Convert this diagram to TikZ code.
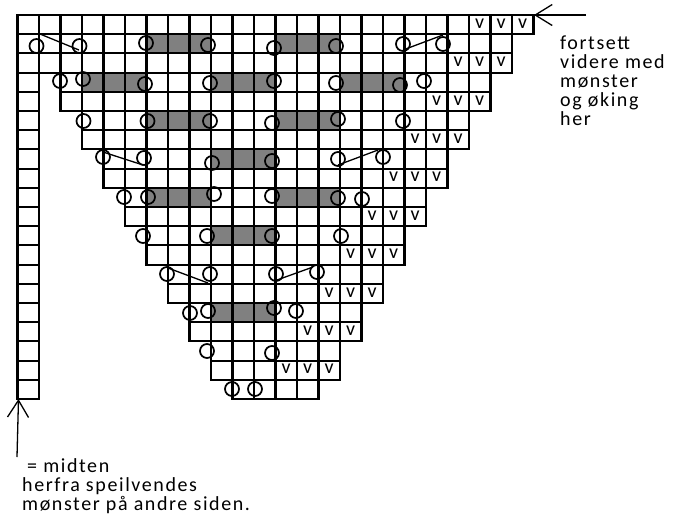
\documentclass[tikz,border=0pt]{standalone}
\usepackage{fontspec}
\usetikzlibrary{arrows.meta}
\newfontfamily\notefont[LetterSpace=8]{Carlito}
\newfontfamily\stitchfont{Carlito}
\tikzset{
	vline/.style={line width=2.8pt},
	hline/.style={line width=2pt},
	ring/.style={circle,draw,line width=1.7pt,minimum size=14pt,inner sep=0pt},
	slant/.style={line width=1.3pt},
	pointer/.style={line width=1.3pt,-{Straight Barb[length=17pt,width=21pt,line width=1.3pt]}},
	note/.style={font=\notefont\fontsize{20}{19}\selectfont,align=left,inner sep=0pt,anchor=north west},
	stitch/.style={font=\stitchfont\fontsize{20}{19}\selectfont,inner sep=0pt}
}
\begin{document}
\begin{tikzpicture}[x=1pt,y=-1pt]
	\def\fx(#1){17.5+21.5*(#1)}
	\def\fy(#1){15+19.2*(#1)}
	\useasboundingbox (0,0) rectangle (688,515);
	\foreach \r/\a/\b in {1/6/9,1/12/15,3/3/6,3/9/12,3/15/18,5/6/9,5/12/15,7/9/12,9/6/9,9/12/15,11/9/12,15/9/12}
		\fill[gray] ({\fx(\a)},{\fy(\r)}) rectangle ({\fx(\b)},{\fy(\r+1)});
	\foreach \r in {0,...,19}{
		\pgfmathtruncatemacro\lft{int((\r+1)/2)}
		\pgfmathtruncatemacro\rgt{24-\lft}
		\draw[hline] ({\fx(\lft)},{\fy(\r)})--({\fx(\rgt)},{\fy(\r)});
		\draw[hline] ({\fx(\lft)},{\fy(\r+1)})--({\fx(\rgt)},{\fy(\r+1)});
		\draw[hline] ({\fx(0)},{\fy(\r)})--({\fx(1)},{\fy(\r)});
		\draw[hline] ({\fx(0)},{\fy(\r+1)})--({\fx(1)},{\fy(\r+1)});
		\draw[vline] ({\fx(0)},{\fy(\r)-1})--({\fx(0)},{\fy(\r+1)+1});
		\draw[vline] ({\fx(1)},{\fy(\r)-1})--({\fx(1)},{\fy(\r+1)+1});
		\foreach \c in {\lft,...,\rgt}\draw[vline] ({\fx(\c)},{\fy(\r)-1})--({\fx(\c)},{\fy(\r+1)+1});
	}
	\foreach \r in {0,...,9}{
		\pgfmathtruncatemacro\first{21-\r}
		\pgfmathtruncatemacro\last{23-\r}
		\foreach \c in {\first,...,\last}\node[stitch] (v\r-\c) at ({\fx(\c+.5)},{\fy(2*\r+.5)-1}) {v};
	}
	\foreach \x/\y [count=\n] in {36.5/46,79.5/46,146/43,208/45,274/48,336/46,403/44,443/44,
		60/81,83/79,145/84,210/83,274/81,336/83,400/85,424/81,
		83.5/121,147.5/121,210/121,272/123,338/119,403/121,
		103/157,144/158,212/163,272/161,338/159,383/157,
		124/197,148/197,214/194,272/196,338/198,362/199,
		143/236,207/236,272/236,341/236,
		167/274,210/274,276/274,317/272,
		190/313,208/311,274/308,296/311,
		207/351,272/353,
		232/389,255/389}
		\node[ring] (ring\n) at (\x,\y) {};
	\foreach \xa/\ya/\xb/\yb [count=\n] in {40/34/79/50,403/50/443/35,103/152/143/165,338/165/378/150,168/268/208/283,277/280/313/267}{
		\coordinate (sa\n) at (\xa,\ya);
		\coordinate (sb\n) at (\xb,\yb);
		\draw[slant] (sa\n)--(sb\n);
	}
	\coordinate (topfrom) at (586,15);
	\coordinate (topto) at (534,15);
	\coordinate (midfrom) at (17,457);
	\coordinate (midto) at (18.5,399);
	\draw[pointer] (topfrom)--(topto);
	\draw[pointer] (midfrom)--(midto);
	\node[note] (moretext) at (560,36) {fortsett\\videre med\\mønster\\og øking\\her};
	\node[note] (midtext) at (22,458) {\hspace{5pt}= midten\\herfra speilvendes\\mønster på andre siden.};
\end{tikzpicture}
\end{document}
